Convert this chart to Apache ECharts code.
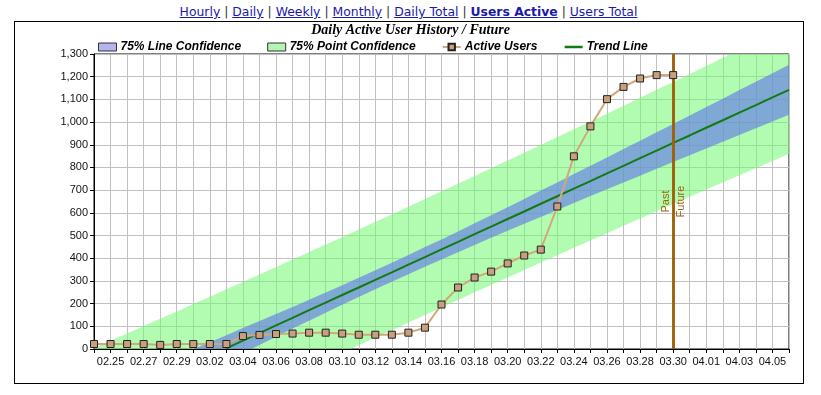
<!DOCTYPE html>
<html><head><meta charset="utf-8">
<script src="https://cdn.jsdelivr.net/npm/echarts@6/dist/echarts.min.js"></script>
<style>
html,body{margin:0;padding:0;background:#fff;width:821px;height:395px;overflow:hidden;}
#nav{position:absolute;left:0;top:4px;width:817px;text-align:center;font-family:"DejaVu Sans",Verdana,sans-serif;font-size:12.4px;color:#333;white-space:nowrap;}
#nav a{color:#1a1aa8;text-decoration:underline;}
#nav b a{font-weight:bold;}
#box{position:absolute;left:14px;top:21px;width:790px;height:363px;border:1px solid #000;box-sizing:border-box;}
#chart{position:absolute;left:0;top:0;width:821px;height:395px;}
</style></head>
<body>
<div id="nav"><a href="#">Hourly</a> | <a href="#">Daily</a> | <a href="#">Weekly</a> | <a href="#">Monthly</a> | <a href="#">Daily Total</a> | <b><a href="#">Users Active</a></b> | <a href="#">Users Total</a></div>
<div id="box"></div>
<div id="chart"></div>
<script>
var categories = ['02.24','02.25','02.26','02.27','02.28','02.29','03.01','03.02','03.03','03.04','03.05','03.06','03.07','03.08','03.09','03.10','03.11','03.12','03.13','03.14','03.15','03.16','03.17','03.18','03.19','03.20','03.21','03.22','03.23','03.24','03.25','03.26','03.27','03.28','03.29','03.30','03.31','04.01','04.02','04.03','04.04','04.05','04.06'];
var activeUsers = [22,22,22,22,18,22,22,22,22,57,62,66,68,72,72,68,63,63,63,72,94,196,271,315,341,377,412,438,628,849,981,1101,1155,1192,1207,1207];
var trendLine = [null,null,null,null,null,null,null,null,3,37,70,104,137,171,204,238,271,305,338,372,405,439,472,506,539,573,606,640,673,707,740,774,807,841,874,908,941,975,1008,1042,1075,1109,1142];
var pointUpper = [4,36,68,101,133,165,198,230,263,295,328,361,394,427,460,493,527,560,593,627,661,695,728,762,796,831,865,899,934,968,1003,1037,1072,1107,1142,1177,1212,1247,1283,1318,1353,1389,1424];
var pointLower = [-534,-499,-464,-429,-394,-360,-325,-290,-256,-222,-187,-153,-119,-85,-51,-17,16,50,83,117,150,183,216,250,282,315,348,381,413,446,478,510,543,575,607,639,671,703,734,766,797,829,860];
var lineUpper = [-181,-151,-121,-91,-61,-30,0,30,61,92,123,154,185,217,249,281,314,347,380,414,449,483,518,554,589,625,661,698,734,771,807,844,881,918,955,992,1029,1066,1103,1141,1178,1215,1253];
var lineLower = [-349,-312,-275,-238,-201,-164,-127,-91,-54,-18,18,54,90,125,160,195,229,263,296,329,362,394,426,458,490,521,552,582,613,643,674,704,734,764,794,824,854,884,913,943,973,1003,1032];
var yTicks = {min:0, max:1300, interval:100};
var splitCategory = '03.30';

function diff(a,b){ return a.map(function(v,i){ return v - b[i]; }); }

var chart = echarts.init(document.getElementById('chart'), null, {renderer:'canvas'});
var axisFont = {fontFamily:'Liberation Sans, Arial, sans-serif', fontSize:11, color:'#111'};
chart.setOption({
  animation:false,
  backgroundColor:'transparent',
  title:{text:'Daily Active User History / Future', left:'center', top:18,
    textStyle:{fontFamily:'Liberation Serif, Times New Roman, serif', fontStyle:'italic', fontWeight:'bold', fontSize:14, color:'#000'}},
  legend:{left:98, top:41, padding:0, itemWidth:18, itemHeight:8, itemGap:26, selectedMode:false,
    textStyle:{fontFamily:'Liberation Sans, Arial, sans-serif', fontStyle:'italic', fontWeight:'bold', fontSize:12, color:'#000', padding:[0,0,0,-1]},
    data:[
      {name:'75% Line Confidence', icon:'rect', itemStyle:{color:'#b4b4f0', borderColor:'#333', borderWidth:1}},
      {name:'75% Point Confidence', icon:'rect', itemStyle:{color:'#b4f5b4', borderColor:'#333', borderWidth:1}},
      {name:'Active Users'},
      {name:'Trend Line', itemStyle:{opacity:0}, lineStyle:{width:2.5, color:'#137a13'}}
    ]},
  grid:{left:94, right:32, top:54, bottom:46, show:true, borderColor:'#000', borderWidth:1, backgroundColor:'transparent'},
  xAxis:{type:'category', data:categories, boundaryGap:false,
    axisLine:{lineStyle:{color:'#000', width:1}},
    axisTick:{show:true, interval:0, length:4, lineStyle:{color:'#000'}},
    axisLabel:Object.assign({interval:function(i){ return i % 2 === 1; }, margin:7}, axisFont),
    splitLine:{show:true, interval:0, lineStyle:{color:'#c0c0c0', width:1}}},
  yAxis:{type:'value', min:yTicks.min, max:yTicks.max, interval:yTicks.interval,
    axisLine:{show:true, lineStyle:{color:'#000', width:1}},
    axisTick:{show:true, length:4, lineStyle:{color:'#000'}},
    axisLabel:Object.assign({margin:6, formatter:function(v){ return String(v).replace(/\B(?=(\d{3})+(?!\d))/g, ','); }}, axisFont),
    splitLine:{show:true, lineStyle:{color:'#c0c0c0', width:1}}},
  series:[
    {name:'pointBase', type:'line', data:pointLower, stack:'point', stackStrategy:'all', symbol:'none', silent:true, lineStyle:{width:0, opacity:0}, z:1},
    {name:'75% Point Confidence', type:'line', data:diff(pointUpper, pointLower), stack:'point', stackStrategy:'all', symbol:'none', silent:true,
      lineStyle:{width:0, opacity:0}, areaStyle:{color:'rgba(115,250,115,0.55)', opacity:1}, z:1},
    {name:'lineBase', type:'line', data:lineLower, stack:'line', stackStrategy:'all', symbol:'none', silent:true, lineStyle:{width:0, opacity:0}, z:2},
    {name:'75% Line Confidence', type:'line', data:diff(lineUpper, lineLower), stack:'line', stackStrategy:'all', symbol:'none', silent:true,
      lineStyle:{width:0, opacity:0}, areaStyle:{color:'rgba(100,125,230,0.65)', opacity:1}, z:2},
    {name:'Trend Line', type:'line', data:trendLine, symbol:'none', lineStyle:{color:'#137a13', width:2}, itemStyle:{color:'#137a13'}, z:3},
    {name:'Active Users', type:'line', data:activeUsers, symbol:'rect', symbolSize:7,
      lineStyle:{color:'#d4a67c', width:2}, itemStyle:{color:'#c8a07e', borderColor:'#222', borderWidth:1}, z:5,
      markLine:{symbol:'none', silent:true, animation:false,
        lineStyle:{color:'#a0600a', width:2.5, type:'solid'},
        label:{color:'#a0600a', fontFamily:'Liberation Sans, Arial, sans-serif', fontSize:11, distance:2},
        data:[
          {xAxis:splitCategory, label:{formatter:'Past', position:'insideMiddleTop'}},
          {xAxis:splitCategory, label:{formatter:'Future', position:'insideMiddleBottom'}}
        ]}}
  ]
});
</script>
</body></html>
